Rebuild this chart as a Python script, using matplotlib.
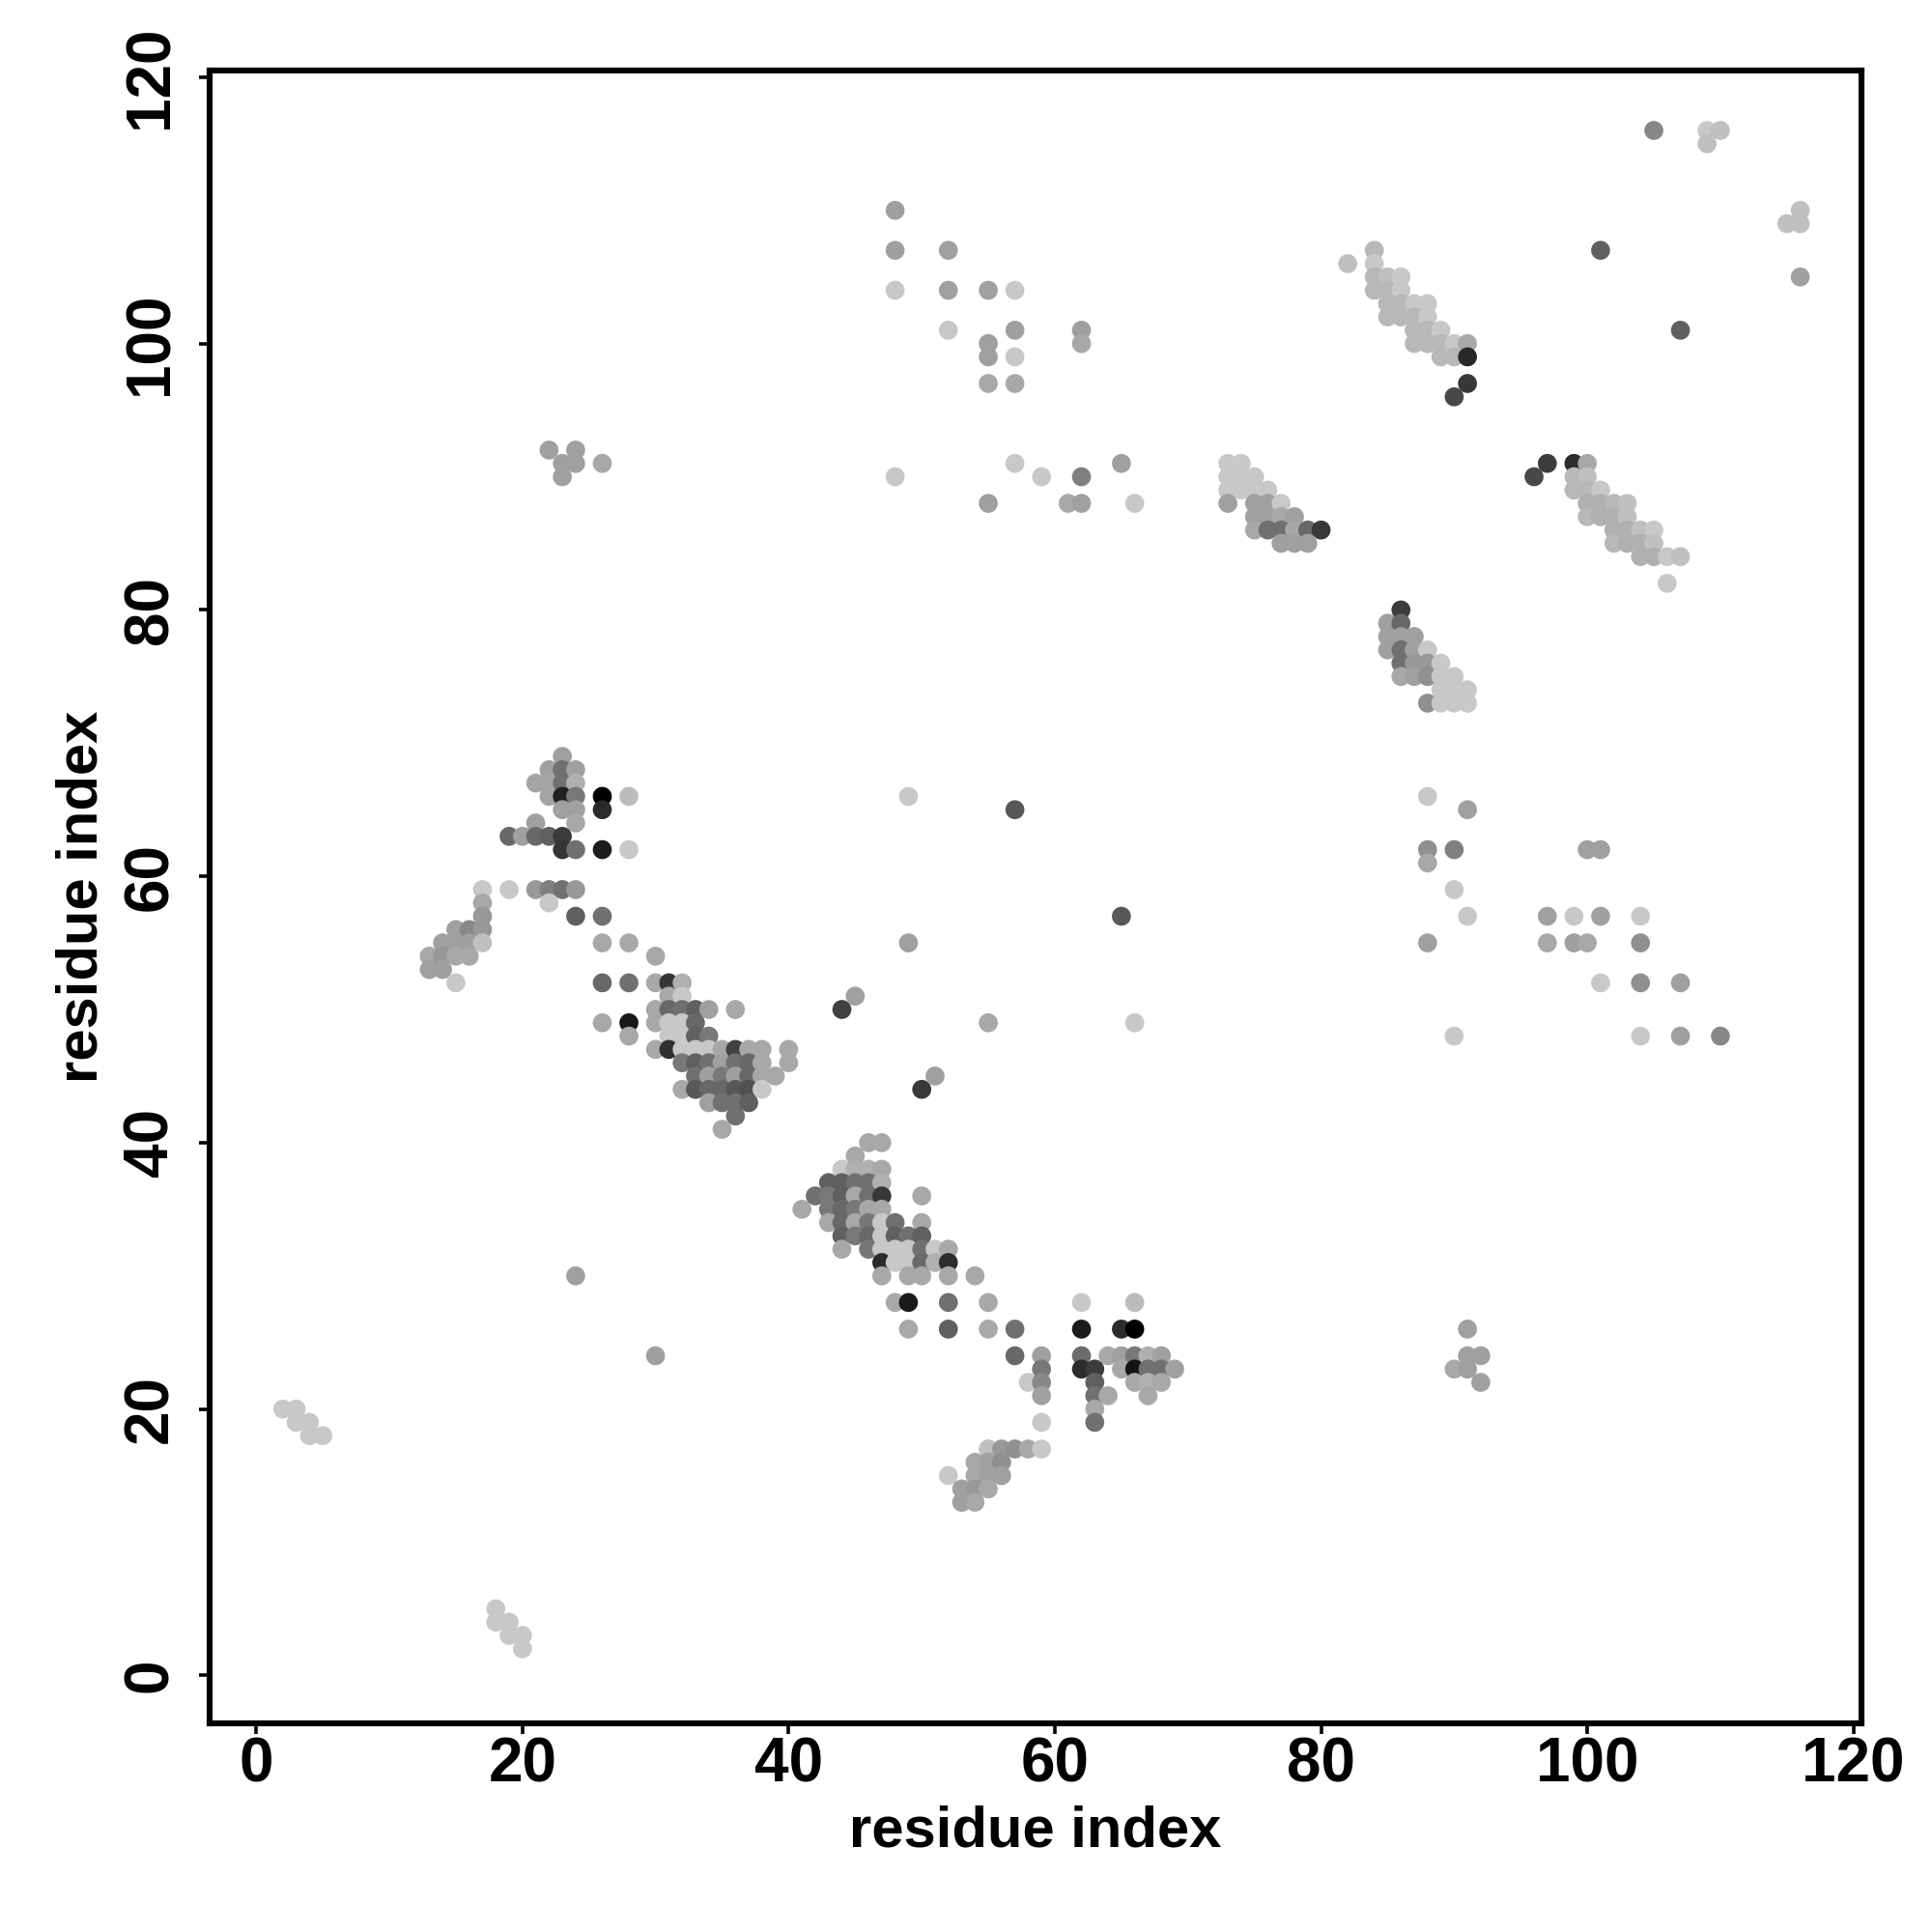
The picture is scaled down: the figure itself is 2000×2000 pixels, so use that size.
import numpy as np
import matplotlib
matplotlib.use('Agg')
import matplotlib.pyplot as plt

plt.rcParams['font.family'] = ['Liberation Sans', 'DejaVu Sans']

# contact map, one set of lists per cluster: residue i, residue j, grey level
c1_i = [23, 22, 23, 24, 21, 22, 23, 24, 22, 23, 24, 26, 28, 23, 24, 26, 21, 24, 19, 20, 21, 22, 23, 23, 24, 26, 28,
        17, 19, 21, 22, 23, 24, 17, 22, 17, 24, 26, 15, 16, 17, 14, 15, 16, 17, 26, 28, 13, 14, 15, 16, 30, 13, 14]
c1_j = [69, 68, 68, 68, 67, 67, 67, 67, 66, 66, 66, 66, 66, 65, 65, 65, 64, 64, 63, 63, 63, 63, 63, 62, 62, 62, 62,
        59, 59, 59, 59, 59, 59, 58, 58, 57, 57, 57, 56, 56, 56, 55, 55, 55, 55, 55, 55, 54, 54, 54, 54, 54, 53, 53]
c1_g = [0xa0, 0xa0, 0x70, 0xa0, 0xa5, 0xa5, 0x70, 0xb0, 0xa5, 0x20, 0x78, 0x00, 0xbb, 0xa0, 0xa0, 0x2a, 0xa0, 0xa8,
        0x68, 0xa0, 0x68, 0x60, 0x3c, 0x35, 0x70, 0x1c, 0xc8, 0xc8, 0xc8, 0x98, 0x80, 0x70, 0x98, 0xa8, 0xc8, 0x98,
        0x60, 0x70, 0xa0, 0x88, 0x98, 0xa0, 0xa0, 0xa0, 0xc0, 0xa8, 0xa8, 0xa8, 0x98, 0xa8, 0xa8, 0xa8, 0xa0, 0xa0]

c2_i = [15, 26, 28, 30, 31, 32, 31, 32, 30, 31, 32, 33, 34, 36, 26, 28, 30, 31, 32, 33, 28, 31, 32, 33, 34,
        30, 31, 32, 33, 34, 35, 36, 37, 38, 40, 32, 33, 34, 35, 36, 37, 38, 40,
        33, 34, 35, 36, 37, 38, 39, 32, 33, 34, 35, 36, 37, 38, 34, 35, 36, 37, 36, 35]
c2_j = [52, 52, 52, 52, 52, 52, 51, 51, 50, 50, 50, 50, 50, 50, 49, 49, 49, 49, 49, 49, 48, 48, 48, 48, 48,
        47, 47, 47, 47, 47, 47, 47, 47, 47, 47, 46, 46, 46, 46, 46, 46, 46, 46,
        45, 45, 45, 45, 45, 45, 45, 44, 44, 44, 44, 44, 44, 44, 43, 43, 43, 43, 42, 41]
c2_g = [0xc8, 0x68, 0x70, 0xa8, 0x35, 0xb0, 0xa8, 0xc8, 0xa8, 0x68, 0x70, 0x60, 0xa0, 0xa8, 0xa8, 0x18, 0xa8, 0xc8,
        0xc8, 0x68, 0xa8, 0xc8, 0xc8, 0x60, 0x78, 0xa8, 0x30, 0xc8, 0xc8, 0xc8, 0xa8, 0x40, 0xa8, 0xa8, 0xa8,
        0x78, 0x60, 0x70, 0xa0, 0x70, 0x68, 0xa8, 0xa8, 0x70, 0xa0, 0x78, 0xa0, 0x68, 0xa8, 0xa8,
        0xa8, 0x58, 0x68, 0x68, 0x58, 0x50, 0xc8, 0xa0, 0x70, 0x70, 0x60, 0x70, 0xa8]

c3_i = [46, 47, 45, 44, 45, 46, 47, 43, 44, 45, 46, 47, 42, 43, 44, 45, 46, 47, 50, 41, 43, 44, 45, 46, 47,
        43, 44, 45, 46, 47, 48, 50, 44, 45, 46, 47, 48, 49, 50, 44, 46, 47, 48, 49, 50, 51, 52,
        47, 48, 49, 50, 51, 52, 47, 49, 50, 52, 54, 48, 49, 52, 55, 49, 52, 55, 57]
c3_j = [40, 40, 39, 38, 38, 38, 38, 37, 37, 37, 37, 37, 36, 36, 36, 36, 36, 36, 36, 35, 35, 35, 35, 35, 35,
        34, 34, 34, 34, 34, 34, 34, 33, 33, 33, 33, 33, 33, 33, 32, 32, 32, 32, 32, 32, 32, 32,
        31, 31, 31, 31, 31, 31, 30, 30, 30, 30, 30, 28, 28, 28, 28, 26, 26, 26, 26]
c3_g = [0xa8, 0xa8, 0xa8, 0xc8, 0xb0, 0xb0, 0xa8, 0x60, 0x60, 0x70, 0x70, 0xb0, 0x70, 0x78, 0x60, 0xa8, 0x70, 0x38,
        0xa8, 0xa8, 0x78, 0x68, 0x78, 0xa8, 0xa8, 0xa8, 0x68, 0xa8, 0x78, 0xc8, 0x70, 0xa8, 0x60, 0x78, 0x68, 0xc8,
        0x60, 0x70, 0x60, 0xa8, 0x78, 0xc8, 0xc8, 0xc8, 0x70, 0xc8, 0xa8, 0x2c, 0xc8, 0xc8, 0x68, 0xb0, 0x2c, 0xa8,
        0xa8, 0xa8, 0xa8, 0xa8, 0xa8, 0x1a, 0x70, 0xa8, 0xa8, 0x60, 0xa8, 0x70]

c4_i = [62, 66, 62, 65, 66, 57, 59, 62, 64, 65, 66, 67, 68, 59, 62, 63, 65, 66, 67, 68, 69,
        58, 59, 63, 66, 67, 68, 59, 63, 64, 67, 63, 59, 63]
c4_j = [28, 28, 26, 26, 26, 24, 24, 24, 24, 24, 24, 24, 24, 23, 23, 23, 23, 23, 23, 23, 23,
        22, 22, 22, 22, 22, 22, 21, 21, 21, 21, 20, 19, 19]
c4_g = [0xc8, 0xbb, 0x1c, 0x2c, 0x00, 0x68, 0xa0, 0x6c, 0xa8, 0xa0, 0x78, 0xb0, 0xa0, 0x78, 0x2c, 0x3c, 0xa8, 0x14,
        0x70, 0x70, 0xa0, 0xc8, 0x88, 0x60, 0xa8, 0xb0, 0xa8, 0xa0, 0x70, 0xa8, 0xa8, 0xa8, 0xc8, 0x70]

c5_i = [55, 56, 57, 58, 59, 54, 55, 56, 52, 54, 55, 56, 53, 54, 55, 53, 54]
c5_j = [17, 17, 17, 17, 17, 16, 16, 16, 15, 15, 15, 15, 14, 14, 14, 13, 13]
c5_g = [0xc0, 0x98, 0x90, 0xa8, 0xc8, 0xa8, 0xa0, 0x90, 0xc8, 0xa8, 0xa0, 0xa0, 0xa0, 0x98, 0xa8, 0xa0, 0xa8]

c6_i = [73, 74, 73, 74, 75, 73, 74, 75, 76, 73, 75, 76, 77, 75, 76, 77, 78, 75, 76, 77, 78, 79, 80, 77, 78, 79]
c6_j = [91, 91, 90, 90, 90, 89, 89, 89, 89, 88, 88, 88, 88, 87, 87, 87, 87, 86, 86, 86, 86, 86, 86, 85, 85, 85]
c6_g = [0xc8, 0xc8, 0xc8, 0xc8, 0xc8, 0xc8, 0xc8, 0xc8, 0xc8, 0xa0, 0xa0, 0xa0, 0xc8, 0xa0, 0xa0, 0xa8, 0xa0, 0xa8,
        0x70, 0x70, 0xa8, 0x68, 0x38, 0xa0, 0xa0, 0xa0]

c7_i = [84, 82, 84, 84, 85, 86, 84, 85, 86, 85, 86, 87, 88, 85, 86, 87, 88, 87, 88, 89, 87, 88, 89, 90, 91, 89, 90, 91, 91, 90]
c7_j = [107, 106, 106, 105, 105, 105, 104, 104, 104, 103, 103, 103, 103, 102, 102, 102, 102, 101, 101, 101,
        100, 100, 100, 100, 100, 99, 99, 99, 97, 96]
c7_g = [0xb8, 0xc0, 0xc8, 0xb8, 0xc0, 0xc8, 0xb8, 0xb8, 0xc8, 0xb8, 0xb8, 0xc8, 0xc8, 0xb8, 0xb8, 0xb8, 0xc8, 0xb8,
        0xb8, 0xc8, 0xb8, 0xb8, 0xb8, 0xc8, 0xa8, 0xb8, 0xb8, 0x28, 0x38, 0x48]

c8_i = [97, 99, 100, 96, 99, 100, 99, 100, 101, 100, 101, 102, 103, 100, 101, 102, 103, 102, 103, 104, 105,
        102, 103, 104, 105, 104, 105, 106, 107, 106]
c8_j = [91, 91, 91, 90, 90, 90, 89, 89, 89, 88, 88, 88, 88, 87, 87, 87, 87, 86, 86, 86, 86,
        85, 85, 85, 85, 84, 84, 84, 84, 82]
c8_g = [0x3c, 0x2c, 0xa8, 0x48, 0xb8, 0xc0, 0xb8, 0xb8, 0xc8, 0xb0, 0xb0, 0xb8, 0xc0, 0xb8, 0xb0, 0xb0, 0xc0, 0xb0,
        0xb0, 0xc0, 0xc8, 0xb8, 0xb0, 0xb0, 0xc0, 0xb0, 0xb0, 0xc8, 0xc0, 0xc8]

c9_i = [86, 85, 86, 85, 86, 87, 85, 86, 87, 88, 86, 87, 88, 89, 86, 87, 88, 89, 90, 89, 90, 91, 88, 89, 90, 91]
c9_j = [80, 79, 79, 78, 78, 78, 77, 77, 77, 77, 76, 76, 76, 76, 75, 75, 75, 75, 75, 74, 74, 74, 73, 73, 73, 73]
c9_g = [0x3c, 0xa0, 0x68, 0xa0, 0xa0, 0xa0, 0xa0, 0x70, 0xa0, 0xc8, 0x70, 0x98, 0x98, 0xc8, 0xa8, 0xa0, 0x90, 0xc8,
        0xc8, 0xc8, 0xc8, 0xc8, 0x90, 0xc8, 0xc8, 0xc8]

# isolated contacts
lone_i = [48, 48, 48, 52, 52, 52, 55, 57, 55, 55, 55, 57, 57, 57, 62, 62, 105, 109, 110, 109, 116, 115, 116, 116,
          101, 107, 48, 57, 59, 55, 61, 62, 62, 65, 66, 22, 23, 24, 24, 23, 26,
          49, 57, 65, 49, 88, 91, 88, 90, 88, 100, 101, 90, 91, 88, 97, 99, 101, 104, 97, 99, 100, 104,
          101, 104, 107, 90, 104, 107, 110, 44, 45, 55, 66, 50, 51, 24, 30,
          91, 91, 92, 90, 91, 92, 2, 3, 3, 4, 4, 5, 18, 18, 19, 19, 20, 20]
lone_j = [110, 107, 104, 107, 104, 101, 104, 104, 100, 99, 97, 101, 99, 97, 101, 100, 116, 116, 116, 115, 110, 109, 109, 105,
          107, 101, 90, 91, 90, 88, 88, 88, 90, 91, 88, 92, 91, 92, 91, 90, 91,
          66, 65, 57, 55, 66, 65, 62, 62, 61, 62, 62, 59, 57, 55, 57, 57, 57, 57, 55, 55, 55, 55,
          52, 52, 52, 48, 48, 48, 48, 50, 51, 49, 49, 44, 45, 30, 24,
          26, 24, 24, 23, 23, 22, 20, 20, 19, 19, 18, 18, 5, 4, 4, 3, 3, 2]
lone_g = [0xa0, 0xa0, 0xc8, 0xa0, 0xa0, 0xc8, 0xa0, 0xc8, 0xa0, 0xa0, 0xa8, 0xa0, 0xc8, 0xa8, 0xa0, 0xa8, 0x88, 0xc8,
          0xc0, 0xc0, 0xc0, 0xc0, 0xc0, 0xa0, 0x60, 0x60, 0xc8, 0xc8, 0xc8, 0xa0, 0xa8, 0xa0, 0x80, 0xa0, 0xc8,
          0xa0, 0xa0, 0xa0, 0xa0, 0xa0, 0xa8, 0xc8, 0x58, 0x58, 0xa0, 0xc8, 0xa0, 0x90, 0x80, 0xa8, 0xa0, 0xa0,
          0xc8, 0xc8, 0xa0, 0xa0, 0xc8, 0xa0, 0xc8, 0xa8, 0xa0, 0xa8, 0x90, 0xc8, 0x90, 0xa0, 0xc8, 0xc8, 0xa0, 0x88,
          0x40, 0xa0, 0xa8, 0xc8, 0x38, 0xa0, 0xa0, 0xa0, 0xa0, 0xa0, 0xa0, 0xa8, 0xa0, 0xa0,
          0xc8, 0xc8, 0xc8, 0xc8, 0xc8, 0xc8, 0xc8, 0xc8, 0xc8, 0xc8, 0xc8, 0xc8]

ticks = [0, 20, 40, 60, 80, 100, 120]

res_i = c1_i + c2_i + c3_i + c4_i + c5_i + c6_i + c7_i + c8_i + c9_i + lone_i
res_j = c1_j + c2_j + c3_j + c4_j + c5_j + c6_j + c7_j + c8_j + c9_j + lone_j
grey = c1_g + c2_g + c3_g + c4_g + c5_g + c6_g + c7_g + c8_g + c9_g + lone_g
colors = [(g / 255, g / 255, g / 255) for g in grey]

fig = plt.figure(figsize=(10, 10), dpi=200)
ax = fig.add_axes([217 / 2000, 1 - 1784 / 2000, 1710 / 2000, 1711 / 2000])

ax.scatter(res_i, res_j, s=50, c=colors, linewidths=0, zorder=3)

ax.set_xlim(-3.5, 120.6)
ax.set_ylim(-3.6, 120.5)
ax.set_xticks(ticks)
ax.set_yticks(ticks)
ax.set_xticklabels(ticks, fontsize=23, fontweight='bold')
ax.set_yticklabels(ticks, fontsize=23, fontweight='bold', rotation=90, va='center')
ax.tick_params(axis='both', length=4, width=1.3, color='black')
ax.tick_params(axis='x', pad=1)
ax.tick_params(axis='y', pad=7)
ax.set_xlabel('residue index', fontsize=21.5, fontweight='bold', labelpad=4)
ax.set_ylabel('residue index', fontsize=21.5, fontweight='bold', labelpad=5)
for s in ax.spines.values():
    s.set_linewidth(2.2)

plt.savefig('out.png', dpi=200)
